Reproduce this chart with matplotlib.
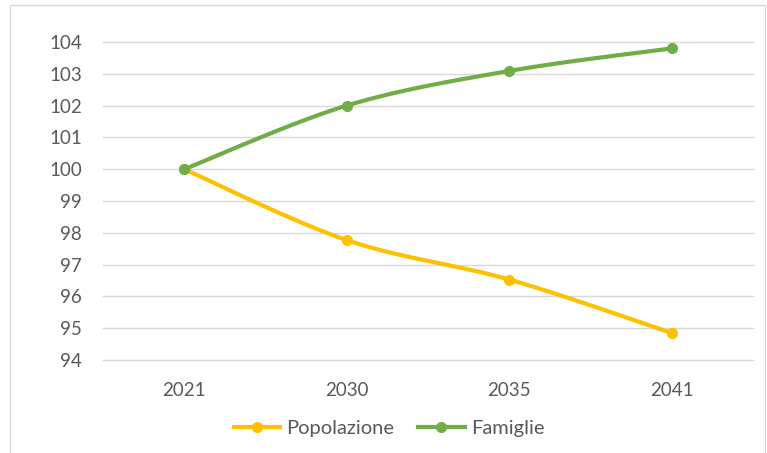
import numpy as np
import matplotlib
matplotlib.use("Agg")
import matplotlib.pyplot as plt
from matplotlib.patches import Rectangle

categories = ["2021", "2030", "2035", "2041"]
popolazione = [100.0, 97.77, 96.53, 94.85]
famiglie = [100.0, 102.0, 103.09, 103.8]
y_ticks = [94, 95, 96, 97, 98, 99, 100, 101, 102, 103, 104]

plt.rcParams['font.family'] = ['Lato', 'DejaVu Sans']
TXT = '#595959'


def smooth(xs, ys, n=40):
    # Excel-like smoothed line (Catmull-Rom / Bezier through points)
    p = np.column_stack([xs, ys]).astype(float)
    pts = np.vstack([p[0], p, p[-1]])
    out = []
    t = np.linspace(0, 1, n)
    for i in range(1, len(pts) - 2):
        p0, p1, p2, p3 = pts[i - 1], pts[i], pts[i + 1], pts[i + 2]
        c1 = p1 + (p2 - p0) / 6.0
        c2 = p2 - (p3 - p1) / 6.0
        seg = ((1 - t) ** 3)[:, None] * p1 + (3 * (1 - t) ** 2 * t)[:, None] * c1 \
            + (3 * (1 - t) * t ** 2)[:, None] * c2 + (t ** 3)[:, None] * p2
        out.append(seg if i == 1 else seg[1:])
    s = np.vstack(out)
    return s[:, 0], s[:, 1]


fig = plt.figure(figsize=(7.67, 4.53), dpi=100)
fig.patches.append(Rectangle((10 / 767, -0.01), (765 - 10) / 767, 1 - 5 / 453 + 0.01,
                             transform=fig.transFigure, fill=False,
                             edgecolor='#D9D9D9', linewidth=1.0))

ax = fig.add_axes([103 / 767, (453 - 360) / 453, (753 - 103) / 767, (360 - 42) / 453])
x = np.arange(len(categories))

series = [("Popolazione", popolazione, '#FFC000'), ("Famiglie", famiglie, '#70AD47')]
for name, vals, col in series:
    sx, sy = smooth(x, vals)
    ax.plot(sx, sy, color=col, linewidth=3, solid_capstyle='round', zorder=3)
    ax.plot(x, vals, linestyle='none', marker='o', markersize=7, color=col, zorder=4)

ax.set_xlim(-0.5, 3.5)
ax.set_ylim(94, 104)
ax.set_yticks(y_ticks)
ax.set_yticklabels([str(v) for v in y_ticks])
ax.set_xticks(x)
ax.set_xticklabels(categories)
ax.tick_params(axis='both', length=0, labelsize=13.5, colors=TXT)
ax.tick_params(axis='y', pad=15)
ax.tick_params(axis='x', pad=16)
ax.grid(axis='y', color='#D9D9D9', linewidth=1.0)
for gl in ax.get_ygridlines():
    gl.set_clip_on(False)
ax.set_axisbelow(True)
for s in ax.spines.values():
    s.set_visible(False)

handles = [plt.Line2D([0], [0], color=c, linewidth=3, marker='o', markersize=7)
           for _, _, c in series]
fig.legend(handles, [n for n, _, _ in series], loc='center', ncol=2,
           bbox_to_anchor=(389 / 767, (453 - 428) / 453), frameon=False,
           fontsize=14.5, labelcolor=TXT, handlelength=2.3, handletextpad=0.3,
           columnspacing=1.2)

fig.savefig("out.png", dpi=100)
